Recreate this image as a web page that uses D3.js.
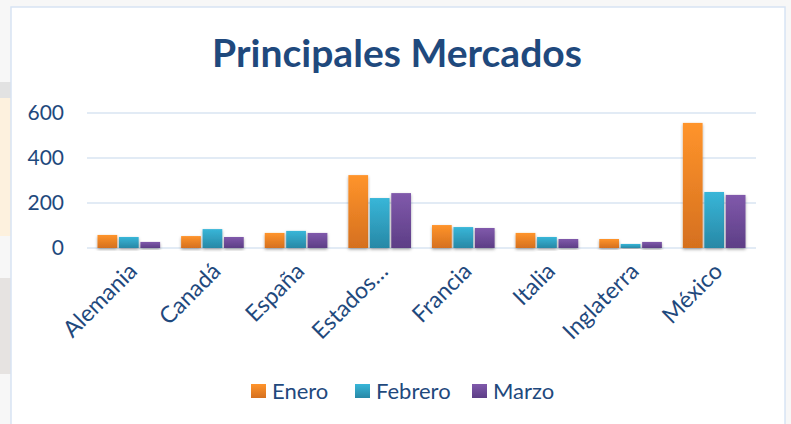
<!DOCTYPE html>
<html>
<head>
<meta charset="utf-8">
<script src="https://cdn.jsdelivr.net/npm/d3@7"></script>
<style>
  body { margin: 0; background: #f7f7f7; font-family: Lato, "Open Sans", sans-serif; }
  svg { display: block; }
</style>
</head>
<body>
<script>
// data
var paises = ["Alemania", "Canadá", "España", "Estados Unidos", "Francia", "Italia", "Inglaterra", "México"];
var etiquetas = ["Alemania", "Canadá", "España", "Estados…", "Francia", "Italia", "Inglaterra", "México"];
var meses = ["Enero", "Febrero", "Marzo"];
var enero = [58, 53, 67, 324, 102, 67, 40, 556];
var febrero = [49, 84, 76, 222, 93, 49, 18, 249];
var marzo = [27, 49, 67, 244, 89, 40, 27, 236];
var ticks = [0, 200, 400, 600];

var series = [enero, febrero, marzo];
var colores = [
  {top: "#ff942b", bottom: "#d5701f"},
  {top: "#38b6d8", bottom: "#2888a6"},
  {top: "#8059ab", bottom: "#5d3e86"}
];

var width = 791, height = 424;
var margin = {left: 87, right: 35, top: 113, bottom: 176};

var svg = d3.select("body").append("svg")
    .attr("width", width)
    .attr("height", height);

var defs = svg.append("defs");
colores.forEach(function(c, i) {
  var g = defs.append("linearGradient")
      .attr("id", "grad" + i)
      .attr("x1", 0).attr("y1", 0).attr("x2", 0).attr("y2", 1);
  g.append("stop").attr("offset", "0%").attr("stop-color", c.top);
  g.append("stop").attr("offset", "100%").attr("stop-color", c.bottom);
});
var sombra = defs.append("filter").attr("id", "sombra")
    .attr("x", "-30%").attr("y", "-10%").attr("width", "160%").attr("height", "130%");
sombra.append("feDropShadow")
    .attr("dx", 0).attr("dy", 1.5).attr("stdDeviation", 1.6)
    .attr("flood-color", "#000").attr("flood-opacity", 0.35);

// whatever sits behind the chart on the left
svg.append("rect").attr("x", 0).attr("y", 82).attr("width", 11).attr("height", 16).attr("fill", "#e2e2e2");
svg.append("rect").attr("x", 0).attr("y", 98).attr("width", 11).attr("height", 138).attr("fill", "#fdf1de");
svg.append("rect").attr("x", 0).attr("y", 278).attr("width", 11).attr("height", 96).attr("fill", "#e6e3e1");

// chart frame
svg.append("rect")
    .attr("x", 11).attr("y", 7)
    .attr("width", 774).attr("height", 430)
    .attr("fill", "#fff")
    .attr("stroke", "#d7e4f4")
    .attr("stroke-width", 1.5);

// title
var titulo = svg.append("text")
    .attr("x", 397).attr("y", 67)
    .attr("text-anchor", "middle")
    .attr("font-weight", "bold")
    .attr("font-size", 38)
    .attr("fill", "#1f497d")
    .text("Principales Mercados");
var tw = titulo.node().getComputedTextLength();
titulo.attr("font-size", 38 * 370 / tw);

var x0 = d3.scaleBand()
    .domain(paises)
    .range([margin.left, width - margin.right])
    .paddingInner(0.21)
    .paddingOuter(0.105);

var x1 = d3.scaleBand()
    .domain(meses)
    .range([0, x0.bandwidth()])
    .padding(0.08);

var y = d3.scaleLinear()
    .domain([0, 600])
    .range([height - margin.bottom, margin.top]);

// gridlines
svg.append("g")
  .selectAll("line")
  .data(ticks)
  .enter().append("line")
    .attr("x1", margin.left)
    .attr("x2", width - margin.right)
    .attr("y1", function(d) { return y(d); })
    .attr("y2", function(d) { return y(d); })
    .attr("stroke", "#d9e4f2")
    .attr("stroke-width", 1.5);

// y axis labels
svg.append("g")
  .selectAll("text")
  .data(ticks)
  .enter().append("text")
    .attr("x", 64)
    .attr("y", function(d) { return y(d); })
    .attr("dy", "0.35em")
    .attr("text-anchor", "end")
    .attr("font-size", 21)
    .attr("fill", "#1f497d")
    .text(function(d) { return d; });

// bars
var grupos = svg.append("g")
  .selectAll("g")
  .data(paises)
  .enter().append("g")
    .attr("transform", function(d) { return "translate(" + x0(d) + ",0)"; });

grupos.selectAll("rect")
  .data(function(d, i) { return series.map(function(s, j) { return {mes: meses[j], valor: s[i], j: j}; }); })
  .enter().append("rect")
    .attr("x", function(d) { return x1(d.mes); })
    .attr("y", function(d) { return y(d.valor); })
    .attr("width", x1.bandwidth())
    .attr("height", function(d) { return y(0) - y(d.valor); })
    .attr("fill", function(d) { return "url(#grad" + d.j + ")"; })
    .attr("filter", "url(#sombra)");

// x axis labels, rotated
svg.append("g")
  .selectAll("text")
  .data(paises)
  .enter().append("text")
    .attr("transform", function(d) {
      return "translate(" + (x0(d) + x0.bandwidth() / 2 + 4) + "," + (y(0) + 19) + ") rotate(-45)";
    })
    .attr("text-anchor", "end")
    .attr("dy", "0.35em")
    .attr("font-size", 23)
    .attr("fill", "#1f497d")
    .text(function(d, i) { return etiquetas[i]; });

// legend
var leyendaX = [251, 355, 472];
var leyenda = svg.append("g")
  .selectAll("g")
  .data(meses)
  .enter().append("g")
    .attr("transform", function(d, i) { return "translate(" + leyendaX[i] + ",384)"; });
leyenda.append("rect")
    .attr("width", 15).attr("height", 14)
    .attr("fill", function(d, i) { return "url(#grad" + i + ")"; });
leyenda.append("text")
    .attr("x", 21).attr("y", 7)
    .attr("dy", "0.35em")
    .attr("font-size", 22)
    .attr("fill", "#1f497d")
    .text(function(d) { return d; });
</script>
</body>
</html>
